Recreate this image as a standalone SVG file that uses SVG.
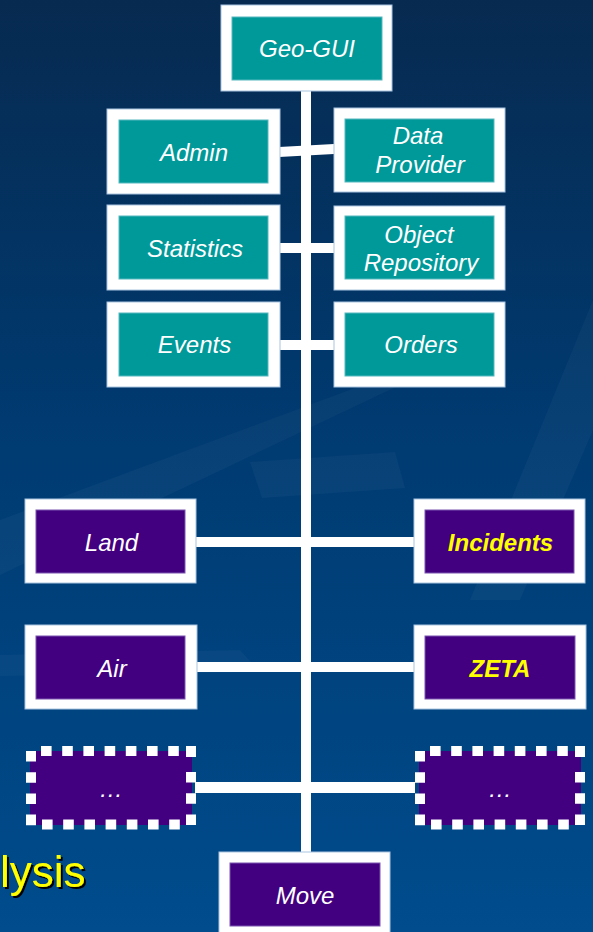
<svg xmlns="http://www.w3.org/2000/svg" width="593" height="932" viewBox="0 0 593 932">
  <defs>
    <linearGradient id="bg" x1="0" y1="0" x2="0" y2="1">
      <stop offset="0" stop-color="#072a50"/>
      <stop offset="0.45" stop-color="#003a70"/>
      <stop offset="1" stop-color="#004c8d"/>
    </linearGradient>
    <filter id="shadow" x="-10%" y="-20%" width="130%" height="150%">
      <feOffset in="SourceAlpha" dx="2" dy="2" result="off"/>
      <feFlood flood-color="#000000"/>
      <feComposite in2="off" operator="in" result="sh"/>
      <feMerge>
        <feMergeNode in="sh"/>
        <feMergeNode in="SourceGraphic"/>
      </feMerge>
    </filter>
    <style>
      .frame { fill: #ffffff; stroke: #a9c3df; stroke-width: 1; }
      .teal { fill: #009999; stroke: #55b8c0; stroke-width: 1; }
      .purple { fill: #420080; stroke: #7a55b0; stroke-width: 1; }
      .lbl { font-family: "Liberation Sans", Arial, sans-serif; font-size: 24px; font-style: italic; fill: #ffffff; text-anchor: middle; }
      .hot { font-weight: bold; fill: #ffff00; }
      .conn { fill: #ffffff; }
      .dash { stroke: #ffffff; stroke-width: 10; stroke-dasharray: 10.6 10.6; fill: none; }
      .streak { fill: #ffffff; opacity: 0.03; }
    </style>
  </defs>

  <rect x="0" y="0" width="593" height="932" fill="url(#bg)"/>
  <g id="background-streaks">
    <polygon class="streak" points="0,520 0,575 400,385 430,360"/>
    <polygon class="streak" points="470,600 520,600 593,430 593,300"/>
    <polygon class="streak" points="250,462 395,452 405,488 262,498"/>
    <polygon class="streak" points="0,655 240,650 260,672 0,676"/>
  </g>

  <g id="connectors">
    <rect class="conn" x="301" y="90" width="10" height="764"/>
    <polygon class="conn" points="279,147 334,144 334,154 279,157"/>
    <rect class="conn" x="279" y="243" width="56" height="10"/>
    <rect class="conn" x="279" y="340" width="56" height="10"/>
    <rect class="conn" x="195" y="537" width="220" height="10"/>
    <rect class="conn" x="196" y="662" width="219" height="10"/>
    <rect class="conn" x="195" y="782" width="220" height="11"/>
  </g>

  <g id="node-geo-gui">
    <rect class="frame" x="221" y="5" width="171" height="86"/>
    <rect class="teal" x="232" y="17" width="150" height="63"/>
    <text class="lbl" x="307" y="57">Geo-GUI</text>
  </g>
  <g id="node-admin">
    <rect class="frame" x="107" y="109" width="173" height="85"/>
    <rect class="teal" x="119" y="120" width="149" height="63"/>
    <text class="lbl" x="194" y="161">Admin</text>
  </g>
  <g id="node-data-provider">
    <rect class="frame" x="334" y="108" width="171" height="84"/>
    <rect class="teal" x="345" y="119" width="149" height="63"/>
    <text class="lbl" x="418" y="144">Data</text>
    <text class="lbl" x="420" y="173">Provider</text>
  </g>
  <g id="node-statistics">
    <rect class="frame" x="107" y="205" width="173" height="85"/>
    <rect class="teal" x="119" y="216" width="149" height="63"/>
    <text class="lbl" x="195" y="257">Statistics</text>
  </g>
  <g id="node-object-repository">
    <rect class="frame" x="334" y="206" width="171" height="84"/>
    <rect class="teal" x="345" y="216" width="149" height="63"/>
    <text class="lbl" x="419" y="243">Object</text>
    <text class="lbl" x="421" y="271">Repository</text>
  </g>
  <g id="node-events">
    <rect class="frame" x="107" y="302" width="173" height="85"/>
    <rect class="teal" x="119" y="313" width="149" height="63"/>
    <text class="lbl" x="194.5" y="353">Events</text>
  </g>
  <g id="node-orders">
    <rect class="frame" x="334" y="302" width="171" height="85"/>
    <rect class="teal" x="345" y="313" width="149" height="63"/>
    <text class="lbl" x="421" y="353">Orders</text>
  </g>
  <g id="node-land">
    <rect class="frame" x="25" y="499" width="171" height="84"/>
    <rect class="purple" x="36" y="510" width="149" height="63"/>
    <text class="lbl" x="111.5" y="551">Land</text>
  </g>
  <g id="node-incidents">
    <rect class="frame" x="414" y="499" width="171" height="84"/>
    <rect class="purple" x="425" y="510" width="149" height="63"/>
    <text class="lbl hot" x="500.5" y="551">Incidents</text>
  </g>
  <g id="node-air">
    <rect class="frame" x="25" y="625" width="172" height="84"/>
    <rect class="purple" x="36" y="636" width="149" height="63"/>
    <text class="lbl" x="112" y="677">Air</text>
  </g>
  <g id="node-zeta">
    <rect class="frame" x="414" y="625" width="172" height="84"/>
    <rect class="purple" x="425" y="636" width="150" height="63"/>
    <text class="lbl hot" x="500" y="677">ZETA</text>
  </g>
  <g id="node-more-left">
    <rect x="30" y="751" width="162" height="74" fill="#420080"/>
    <line class="dash" x1="41" y1="751" x2="196" y2="751"/>
    <line class="dash" x1="31" y1="751" x2="31" y2="830"/>
    <line class="dash" x1="191" y1="746" x2="191" y2="757" style="stroke-dasharray:none"/>
    <line class="dash" x1="191" y1="772" x2="191" y2="830"/>
    <line class="dash" x1="42" y1="824.5" x2="186" y2="824.5"/>
    <text class="lbl" x="111" y="797">…</text>
  </g>
  <g id="node-more-right">
    <rect x="419" y="751" width="162" height="74" fill="#420080"/>
    <line class="dash" x1="430" y1="751" x2="585" y2="751"/>
    <line class="dash" x1="420" y1="751" x2="420" y2="830"/>
    <line class="dash" x1="580" y1="746" x2="580" y2="757" style="stroke-dasharray:none"/>
    <line class="dash" x1="580" y1="772" x2="580" y2="830"/>
    <line class="dash" x1="431" y1="824.5" x2="575" y2="824.5"/>
    <text class="lbl" x="500" y="797">…</text>
  </g>
  <g id="node-move">
    <rect class="frame" x="219" y="852" width="171" height="90"/>
    <rect class="purple" x="230" y="863" width="150" height="63"/>
    <text class="lbl" x="305" y="904">Move</text>
  </g>

  <text id="title-fragment" x="0" y="887" font-family="Liberation Sans, Arial, sans-serif" font-size="44" fill="#ffff00" filter="url(#shadow)">lysis</text>
</svg>
